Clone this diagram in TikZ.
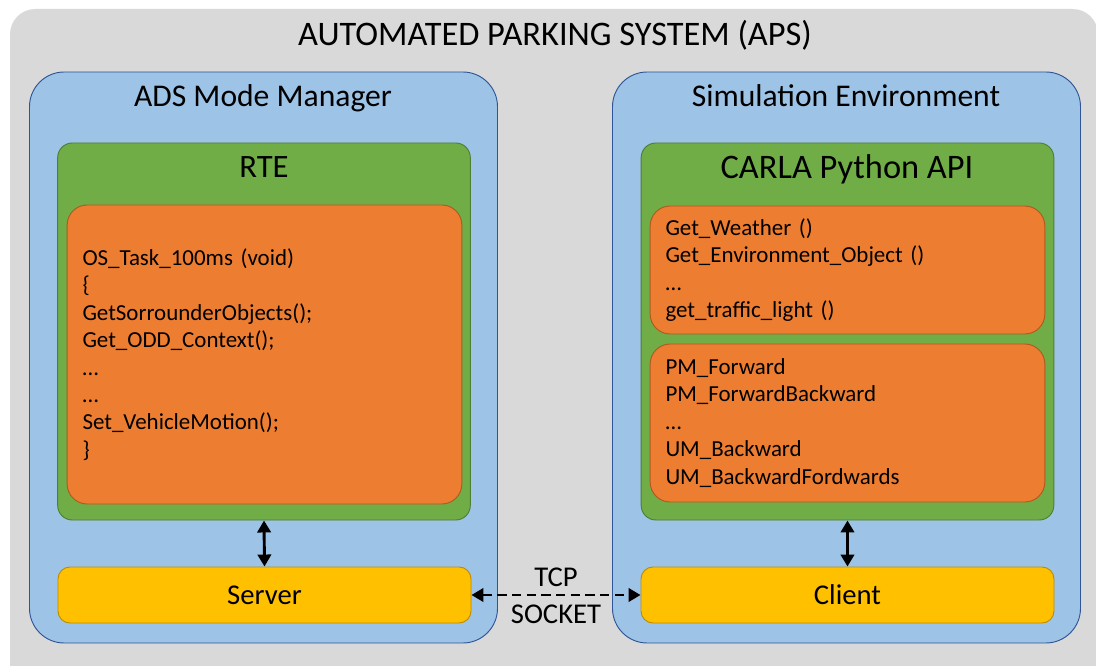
\documentclass[tikz,border=0pt]{standalone}
\usepackage{fontspec}
\setmainfont{Carlito}
\usepackage{tikz}
\usetikzlibrary{arrows.meta,calc}

\definecolor{apsgrey}{HTML}{D9D9D9}
\definecolor{adsblue}{HTML}{9DC3E6}
\definecolor{adsline}{HTML}{2F5597}
\definecolor{rtegreen}{HTML}{70AD47}
\definecolor{rteline}{HTML}{507E32}
\definecolor{taskorange}{HTML}{ED7D31}
\definecolor{taskline}{HTML}{AE5A21}
\definecolor{srvyellow}{HTML}{FFC000}
\definecolor{srvline}{HTML}{BC8C00}

\begin{document}
\begin{tikzpicture}[x=0.75pt,y=-0.75pt,
    blk/.style={rounded corners=#1,inner sep=0pt},
    blue/.style={blk=26pt,fill=adsblue,draw=adsline,line width=0.7pt,minimum width=351pt,minimum height=428.25pt},
    green/.style={blk=11pt,fill=rtegreen,draw=rteline,line width=0.7pt,minimum width=309.5pt,minimum height=282.75pt},
    orange/.style={blk=15pt,fill=taskorange,draw=taskline,line width=0.7pt,minimum width=296pt,
      align=left,text width=273pt,inner xsep=11.5pt,font=\fontsize{17.2}{20.6}\selectfont},
    yellow/.style={blk=9pt,fill=srvyellow,draw=srvline,line width=0.7pt,minimum width=309.75pt,minimum height=42pt,
      font=\fontsize{21.5}{24}\selectfont},
    head/.style={font=\fontsize{#1}{#1}\selectfont,inner sep=0pt,anchor=base},
    bi/.style={{Triangle[width=10pt,length=9pt]}-{Triangle[width=10pt,length=9pt]},line width=2.2pt}]
  \useasboundingbox (0,0) rectangle (1096,666);
  \clip (0,0) rectangle (1096,666);
  % outer frame
  \node[blk=19pt,fill=apsgrey,minimum width=816pt,minimum height=510.75pt] (APS) at (554,349.5) {};
  \node[head=25.8] (APST) at (555,46) {AUTOMATED PARKING SYSTEM (APS)};
  % left side
  \node[blue] (ADS) at (263.5,357.5) {};
  \node[head=23.7] (ADST) at (263,107) {ADS Mode Manager};
  \node[green] (RTE) at (264,331.5) {};
  \node[head=24.5] (RTET) at (264,178) {RTE};
  \node[orange,minimum height=224.25pt] (TSK) at (264.5,354.5) {OS\_Task\_100ms (void)\\
    \{\\
    GetSorrounderObjects();\\
    Get\_ODD\_Context();\\
    \dots\\
    \dots\\
    Set\_VehicleMotion();\\
    \}};
  \node[yellow] (SRV) at (264.5,595) {Server};
  % right side
  \node[blue] (SIM) at (846.5,357.5) {};
  \node[head=23.7] (SIMT) at (846,107) {Simulation Environment};
  \node[green] (API) at (847.5,331.5) {};
  \node[head=25.8] (APIT) at (847,179) {CARLA Python API};
  \node[orange,minimum height=96pt] (GET) at (847.5,270) {Get\_Weather ()\\
    Get\_Environment\_Object ()\\
    \dots\\
    get\_traffic\_light ()};
  \node[orange,minimum height=118.5pt] (PM) at (847.5,423) {PM\_Forward\\
    PM\_ForwardBackward\\
    \dots\\
    UM\_Backward\\
    UM\_BackwardFordwards};
  \node[yellow] (CLI) at (847.5,595) {Client};
  % links
  \draw[bi] (RTE.south) -- (SRV.north);
  \draw[bi] (API.south) -- (CLI.north);
  \draw[bi,dash pattern=on 7pt off 4pt] (SRV.east) -- (CLI.west)
    node[midway,above=5pt,inner sep=0pt,font=\fontsize{21.5}{24}\selectfont] (TCP) {TCP}
    node[midway,below=6pt,inner sep=0pt,font=\fontsize{21.5}{24}\selectfont] (SCK) {SOCKET};
\end{tikzpicture}
\end{document}
